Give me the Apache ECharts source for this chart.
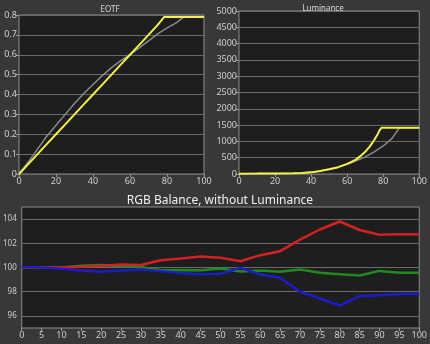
<!DOCTYPE html>
<html><head><meta charset="utf-8">
<script src="https://cdn.jsdelivr.net/npm/echarts@6/dist/echarts.min.js"></script>
<style>html,body{margin:0;padding:0;background:#383838}#c{width:430px;height:344px}</style>
</head><body><div id="c"></div>
<script>
// EOTF
var eotfYellowX = [0,5,10,15,20,25,30,35,40,45,50,55,60,65,70,75,78.5,80,85,90,95,100];
var eotfYellowY = [0,0.05,0.1,0.15,0.2,0.25,0.3,0.35,0.4,0.45,0.5,0.55,0.6,0.65,0.7,0.75,0.79,0.79,0.79,0.79,0.79,0.79];
var eotfGrayX = [0,5,10,15,20,25,30,35,40,45,50,55,60,65,70,75,80,85,89,90,95,100];
var eotfGrayY = [0,0.06,0.125,0.19,0.245,0.3,0.355,0.405,0.45,0.495,0.535,0.57,0.6,0.635,0.67,0.705,0.735,0.76,0.79,0.79,0.79,0.79];
// Luminance
var lumYellowX = [0,10,20,30,35,40,45,50,55,60,62.5,65,67.5,70,72.5,75,77,78,79,80,85,90,95,100];
var lumYellowY = [10,12,15,20,28,50,90,144,210,310,375,450,555,680,840,1040,1230,1340,1420,1420,1420,1420,1420,1420];
var lumGrayX = [0,10,20,30,35,40,45,50,55,60,65,70,75,80,85,89,90,95,100];
var lumGrayY = [10,12,15,20,28,50,90,144,210,300,405,525,680,860,1100,1420,1420,1420,1420];
// RGB balance
var rgbX = [0,5,10,15,20,25,30,35,40,45,50,55,60,65,70,75,80,85,90,95,100];
var rgbRed = [100.03,100.0,100.0,100.07,100.15,100.25,100.2,100.6,100.75,100.9,100.8,100.52,101.02,101.35,102.3,103.14,103.8,103.1,102.7,102.75,102.75];
var rgbGreen = [100.0,100.0,100.0,100.15,100.2,100.1,100.05,99.78,99.8,99.78,99.92,99.67,99.75,99.64,99.83,99.56,99.45,99.34,99.72,99.56,99.56];
var rgbBlue = [100.05,100.0,99.9,99.75,99.65,99.75,99.85,99.7,99.55,99.45,99.48,99.97,99.42,99.15,98.0,97.44,96.86,97.63,97.71,97.8,97.83];
var titles = ['EOTF','Luminance','RGB Balance, without Luminance'];

function pairs(xs, ys){ return xs.map(function(x,i){return [x, ys[i]];}); }
var font = 'Noto Sans';
var lab = {color:'#cfcfcf', fontSize:9, fontFamily:font};
var gridBase = {show:true, backgroundColor:'#1e1e1e', borderColor:'#8c8c8c', borderWidth:1};
function xAx(idx, interval){
  return {type:'value', gridIndex:idx, min:0, max:100, interval:interval,
    axisLine:{show:false}, splitLine:{show:false},
    axisTick:{show:true, length:3, lineStyle:{color:'#9a9a9a'}},
    axisLabel:Object.assign({margin:3}, lab)};
}
var chart = echarts.init(document.getElementById('c'));
chart.setOption({
  backgroundColor:'#383838',
  animation:false,
  title:[
    {text:titles[0], left:105, top:1, textAlign:'center', textStyle:{color:'#d8d8d8', fontSize:8, fontWeight:'normal', fontFamily:font}},
    {text:titles[1], left:318, top:0, textAlign:'center', textStyle:{color:'#d8d8d8', fontSize:8, fontWeight:'normal', fontFamily:font}},
    {text:titles[2], left:215, top:190, textAlign:'center', textStyle:{color:'#f0f0f0', fontSize:12, fontWeight:'normal', fontFamily:font}}
  ],
  grid:[
    Object.assign({left:19, top:15, width:185, height:159}, gridBase),
    Object.assign({left:239, top:11, width:181, height:163}, gridBase),
    Object.assign({left:16, top:207, width:404, height:121}, gridBase)
  ],
  xAxis:[ xAx(0,20), xAx(1,20), xAx(2,5) ],
  yAxis:[
    {type:'value', gridIndex:0, min:0, max:0.8, interval:0.1,
      axisLine:{show:false}, axisTick:{show:true, length:3, lineStyle:{color:'#9a9a9a'}},
      splitLine:{lineStyle:{color:'#6a6a6a', width:1}},
      axisLabel:Object.assign({margin:2, formatter:function(v){return v===0?'0':v.toFixed(1);}}, lab)},
    {type:'value', gridIndex:1, min:0, max:5000, interval:500,
      axisLine:{show:false}, axisTick:{show:true, length:3, lineStyle:{color:'#9a9a9a'}},
      splitLine:{lineStyle:{color:'#6a6a6a', width:1}},
      axisLabel:Object.assign({margin:2, formatter:function(v){return String(v);}}, lab)},
    {type:'value', gridIndex:2, min:95, max:105, interval:1,
      axisLine:{show:false}, axisTick:{show:false},
      splitLine:{lineStyle:{color:['rgba(0,0,0,0)','#6a6a6a'], width:1}},
      axisLabel:Object.assign({margin:5, formatter:function(v){return (v%2===0)?String(v):'';}}, lab, {fontSize:8})}
  ],
  series:[
    {type:'line', xAxisIndex:0, yAxisIndex:0, data:pairs(eotfGrayX,eotfGrayY), showSymbol:false, lineStyle:{color:'#8a8a8a', width:1.5}},
    {type:'line', xAxisIndex:0, yAxisIndex:0, data:pairs(eotfYellowX,eotfYellowY), showSymbol:false, lineStyle:{color:'#f2f04a', width:2}},
    {type:'line', xAxisIndex:1, yAxisIndex:1, data:pairs(lumGrayX,lumGrayY), showSymbol:false, lineStyle:{color:'#8a8a8a', width:1.5}},
    {type:'line', xAxisIndex:1, yAxisIndex:1, data:pairs(lumYellowX,lumYellowY), showSymbol:false, lineStyle:{color:'#f2f04a', width:2}},
    {type:'line', xAxisIndex:2, yAxisIndex:2, data:pairs(rgbX,rgbGreen), showSymbol:false, lineStyle:{color:'#1f8a1f', width:2.5}},
    {type:'line', xAxisIndex:2, yAxisIndex:2, data:pairs(rgbX,rgbRed), showSymbol:false, lineStyle:{color:'#d42222', width:2.5}},
    {type:'line', xAxisIndex:2, yAxisIndex:2, data:pairs(rgbX,rgbBlue), showSymbol:false, lineStyle:{color:'#1c1cc8', width:2.5}}
  ]
});
</script></body></html>
